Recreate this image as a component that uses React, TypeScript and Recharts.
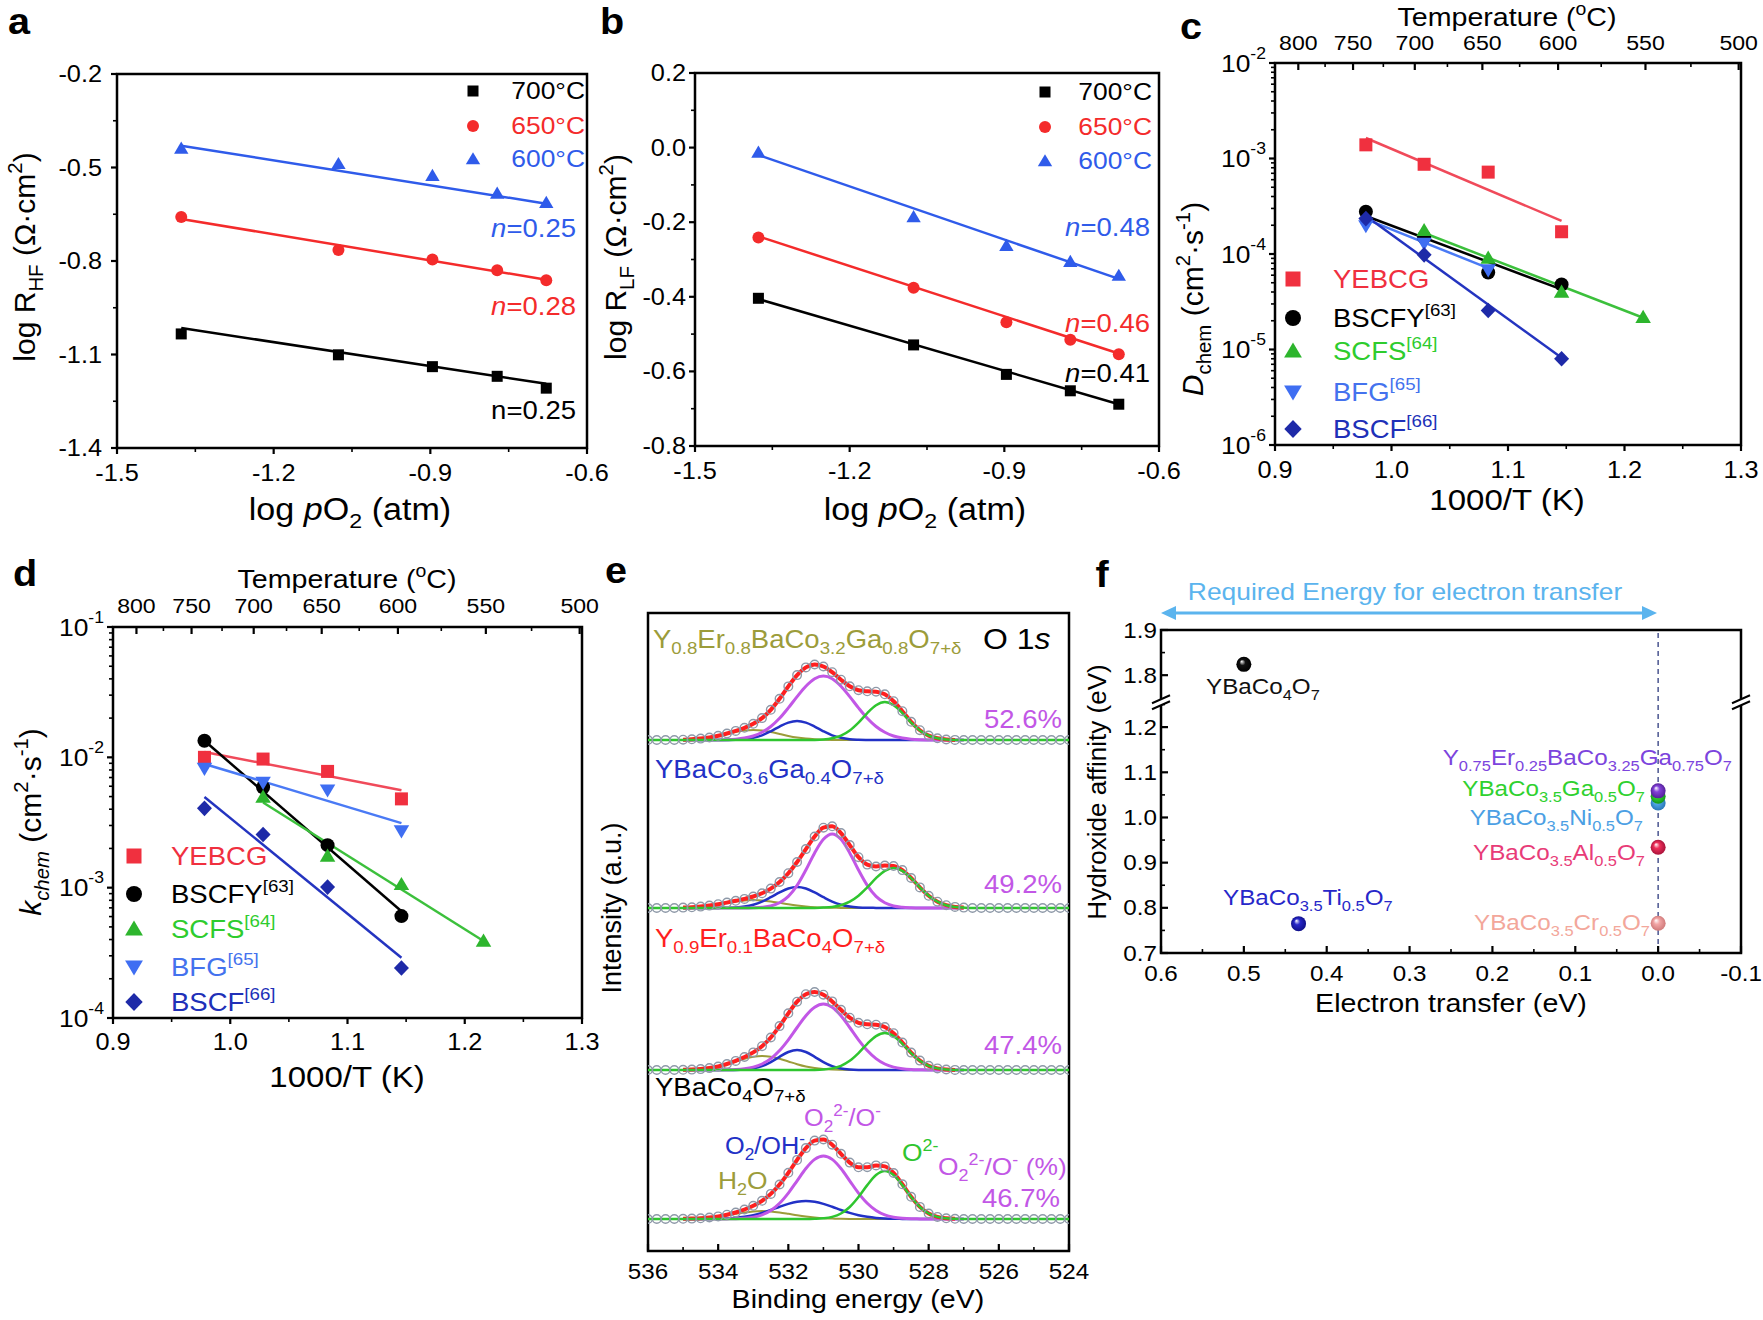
import React from "react";
import {
  ComposedChart,
  Line,
  Scatter,
  XAxis,
  YAxis,
  ReferenceArea,
  ReferenceLine,
} from "recharts";

const FONT = "'Liberation Sans', Arial, Helvetica, sans-serif";
const SX = 1.1; // the source figure is slightly stretched horizontally

// ---------- a / b : log R vs log pO2 ----------
const LOG_PO2 = [-1.377, -1.076, -0.896, -0.772, -0.678];
const RHF_700 = [-1.034, -1.101, -1.139, -1.17, -1.208];
const RHF_650 = [-0.659, -0.765, -0.795, -0.83, -0.862];
const RHF_600 = [-0.439, -0.488, -0.526, -0.583, -0.613];
const RHF_FIT_700 = [-1.015, -1.194];
const RHF_FIT_650 = [-0.665, -0.86];
const RHF_FIT_600 = [-0.43, -0.616];
const RLF_700 = [-0.404, -0.529, -0.608, -0.652, -0.688];
const RLF_650 = [-0.241, -0.376, -0.468, -0.515, -0.554];
const RLF_600 = [-0.013, -0.186, -0.263, -0.306, -0.343];
const RLF_FIT_700 = [-0.406, -0.688];
const RLF_FIT_650 = [-0.238, -0.552];
const RLF_FIT_600 = [-0.02, -0.352];
const TEMP_LABELS = ["700", "650", "600"];

// ---------- c / d : D_chem and k_chem vs 1000/T ----------
const INV_T = [0.978, 1.028, 1.083, 1.146];
const INV_T_SCFS = [1.028, 1.083, 1.146, 1.216];
const INV_T_BFG_C = [0.978, 1.028, 1.083];
const D_YEBCG = [1.39e-3, 8.7e-4, 7.2e-4, 1.71e-4];
const D_BSCFY = [2.77e-4, 1.5e-4, 6.4e-5, 4.8e-5];
const D_SCFS = [1.77e-4, 9.1e-5, 4.0e-5, 2.18e-5];
const D_BFG = [1.97e-4, 1.29e-4, 6.8e-5];
const D_BSCF = [2.35e-4, 9.8e-5, 2.56e-5, 8.0e-6];
const D_FIT_YEBCG = [1.64e-3, 2.22e-4];
const D_FIT_BSCFY = [2.5e-4, 4.26e-5];
const D_FIT_SCFS = [1.66e-4, 2.15e-5];
const D_FIT_BFG = [2.32e-4, 7.1e-5];
const D_FIT_BSCF = [2.5e-4, 8.2e-6];
const K_YEBCG = [1.0e-2, 9.7e-3, 7.8e-3, 4.8e-3];
const K_BSCFY = [1.34e-2, 5.9e-3, 2.12e-3, 6.05e-4];
const K_SCFS = [4.96e-3, 1.75e-3, 1.06e-3, 3.9e-4];
const K_BFG = [8.2e-3, 6.4e-3, 5.6e-3, 2.72e-3];
const K_BSCF = [4.06e-3, 2.56e-3, 1.01e-3, 2.42e-4];
const K_FIT_YEBCG = [1.1e-2, 5.6e-3];
const K_FIT_BSCFY = [1.34e-2, 6.6e-4];
const K_FIT_SCFS = [4.5e-3, 3.9e-4];
const K_FIT_BFG = [8.9e-3, 3.13e-3];
const K_FIT_BSCF = [4.97e-3, 2.9e-4];
// top (temperature) axis: labels and where the figure places them on the 1000/T scale
const TEMP_C = [800, 750, 700, 650, 600, 550, 500];
const TEMP_POS = [0.92, 0.967, 1.02, 1.078, 1.143, 1.218, 1.298];
const TEMP_MINOR = [0.943, 0.993, 1.048, 1.11, 1.18, 1.257];
const CD_NAMES = ["YEBCG", "BSCFY", "SCFS", "BFG", "BSCF"];
const CD_REFS = ["", "[63]", "[64]", "[65]", "[66]"];

// ---------- e : O 1s XPS, binding energy grid ----------
const BE = [
  536, 535.75, 535.5, 535.25, 535, 534.75, 534.5, 534.25, 534, 533.75, 533.5, 533.25, 533,
  532.75, 532.5, 532.25, 532, 531.75, 531.5, 531.25, 531, 530.75, 530.5, 530.25, 530, 529.75,
  529.5, 529.25, 529, 528.75, 528.5, 528.25, 528, 527.75, 527.5, 527.25, 527, 526.75, 526.5,
  526.25, 526, 525.75, 525.5, 525.25, 525, 524.75, 524.5, 524.25, 524,
];
// measured intensity (circles / envelope), full grid
const XPS_1 = [0, 0, 0, 0, 0.3, 0.7, 1.4, 2.5, 4.2, 6.5, 9.1, 12.2, 16.2, 21.9, 30.2, 41.2, 53.6, 64.9, 72.6, 75.5, 73.5, 67.8, 60.3, 53.7, 49.8, 48.7, 48.3, 45.7, 38.8, 28.8, 18.2, 9.8, 4.4, 1.7, 0.5, 0.1, 0, 0, 0, 0, 0, 0, 0, 0, 0, 0, 0, 0, 0];
const XPS_2 = [0, 0, 0, 0, 0.4, 0.7, 1.4, 2.4, 3.8, 5.4, 7.2, 9.1, 11.5, 14.7, 19.4, 26.0, 34.8, 46.0, 58.9, 71.5, 80.3, 81.7, 74.9, 62.9, 50.8, 43.4, 41.5, 42.4, 42.0, 37.9, 30.0, 20.6, 12.2, 6.3, 2.8, 1.1, 0.4, 0, 0, 0, 0, 0, 0, 0, 0, 0, 0, 0, 0];
const XPS_3 = [0, 0, 0, 0, 0.2, 0.4, 0.9, 1.9, 3.5, 6.0, 9.1, 13.0, 17.6, 23.8, 32.5, 43.9, 56.7, 68.3, 75.8, 78.0, 75.3, 68.6, 60.2, 52.3, 47.2, 45.7, 45.3, 43.0, 36.8, 27.5, 17.4, 9.4, 4.2, 1.6, 0.5, 0.1, 0, 0, 0, 0, 0, 0, 0, 0, 0, 0, 0, 0, 0];
const XPS_4 = [0, 0, 0, 0, 0.2, 0.4, 0.7, 1.5, 2.6, 4.3, 6.5, 9.5, 13.2, 18.2, 25.1, 34.5, 46.2, 59.1, 70.9, 78.4, 79.5, 74.3, 65.2, 56.4, 51.7, 51.8, 53.6, 52.6, 46.0, 34.7, 22.2, 12.1, 5.5, 2.1, 0.7, 0.2, 0, 0, 0, 0, 0, 0, 0, 0, 0, 0, 0, 0, 0];
// fitted components, 535 eV .. 527 eV
const PEROX_1 = [0, 0, 0, 0, 0.1, 0.3, 0.8, 1.9, 4.0, 7.7, 13.5, 21.7, 32.1, 43.4, 53.8, 61.3, 64, 61.3, 53.8, 43.4, 32.1, 21.7, 13.5, 7.7, 4.0, 1.9, 0.8, 0.3, 0.1, 0, 0, 0, 0];
const LATT_1 = [0, 0, 0, 0, 0, 0, 0, 0, 0, 0, 0, 0, 0, 0, 0, 0.1, 0.5, 1.7, 4.3, 9.5, 17.4, 26.9, 34.8, 38, 34.8, 26.9, 17.4, 9.5, 4.3, 1.7, 0.5, 0.1, 0];
const HYDROX_1 = [0, 0, 0, 0, 0, 0.1, 0.3, 0.8, 2.2, 4.7, 8.7, 13.4, 17.4, 19, 17.4, 13.4, 8.7, 4.7, 2.2, 0.8, 0.3, 0.1, 0, 0, 0, 0, 0, 0, 0, 0, 0, 0, 0];
const WATER_1 = [0.3, 0.7, 1.4, 2.5, 4.1, 6.1, 8.0, 9.5, 10, 9.5, 8.0, 6.1, 4.1, 2.5, 1.4, 0.7, 0.3, 0.1, 0, 0, 0, 0, 0, 0, 0, 0, 0, 0, 0, 0, 0, 0, 0];
const PEROX_2 = [0, 0, 0, 0, 0, 0, 0, 0, 0.2, 0.7, 2.0, 5.2, 11.6, 22.6, 38.0, 55.1, 68.7, 74, 68.7, 55.1, 38.0, 22.6, 11.6, 5.2, 2.0, 0.7, 0.2, 0, 0, 0, 0, 0, 0];
const LATT_2 = [0, 0, 0, 0, 0, 0, 0, 0, 0, 0, 0, 0, 0, 0, 0, 0.1, 0.4, 1.1, 2.8, 6.3, 12.2, 20.6, 29.8, 37.2, 40, 37.2, 29.8, 20.6, 12.2, 6.3, 2.8, 1.1, 0.4];
const HYDROX_2 = [0, 0, 0, 0, 0.1, 0.2, 0.6, 1.5, 3.3, 6.4, 10.8, 15.6, 19.5, 21, 19.5, 15.6, 10.8, 6.4, 3.3, 1.5, 0.6, 0.2, 0.1, 0, 0, 0, 0, 0, 0, 0, 0, 0, 0];
const WATER_2 = [0.4, 0.7, 1.4, 2.4, 3.7, 5.2, 6.6, 7.6, 8, 7.6, 6.6, 5.2, 3.7, 2.4, 1.4, 0.7, 0.4, 0.2, 0.1, 0, 0, 0, 0, 0, 0, 0, 0, 0, 0, 0, 0, 0, 0];
const PEROX_3 = [0, 0, 0, 0, 0, 0.2, 0.5, 1.3, 2.9, 6.0, 11.4, 19.5, 30.2, 42.5, 54.3, 62.8, 66, 62.8, 54.3, 42.5, 30.2, 19.5, 11.4, 6.0, 2.9, 1.3, 0.5, 0.2, 0, 0, 0, 0, 0];
const LATT_3 = [0, 0, 0, 0, 0, 0, 0, 0, 0, 0, 0, 0, 0, 0, 0, 0.1, 0.5, 1.6, 4.2, 9.2, 16.9, 26.2, 33.9, 37, 33.9, 26.2, 16.9, 9.2, 4.2, 1.6, 0.5, 0.1, 0];
const HYDROX_3 = [0, 0, 0, 0, 0, 0, 0.1, 0.5, 1.5, 3.8, 7.9, 13.2, 18.0, 20, 18.0, 13.2, 7.9, 3.8, 1.5, 0.5, 0.1, 0, 0, 0, 0, 0, 0, 0, 0, 0, 0, 0, 0];
const WATER_3 = [0.2, 0.4, 0.9, 1.9, 3.5, 5.8, 8.5, 11.2, 13.2, 14, 13.2, 11.2, 8.5, 5.8, 3.5, 1.9, 0.9, 0.4, 0.2, 0.1, 0, 0, 0, 0, 0, 0, 0, 0, 0, 0, 0, 0, 0];
const PEROX_4 = [0, 0, 0, 0, 0, 0.1, 0.2, 0.7, 1.8, 4.1, 8.5, 15.7, 25.9, 38.2, 50.5, 59.6, 63, 59.6, 50.5, 38.2, 25.9, 15.7, 8.5, 4.1, 1.8, 0.7, 0.2, 0.1, 0, 0, 0, 0, 0];
const LATT_4 = [0, 0, 0, 0, 0, 0, 0, 0, 0, 0, 0, 0, 0, 0, 0, 0.2, 0.7, 2.1, 5.5, 12.0, 22.0, 33.9, 44.0, 48, 44.0, 33.9, 22.0, 12.0, 5.5, 2.1, 0.7, 0.2, 0];
const HYDROX_4 = [0, 0, 0, 0.1, 0.2, 0.5, 1.1, 2.2, 3.8, 6.1, 9.0, 12.2, 15.1, 17.2, 18, 17.2, 15.1, 12.2, 9.0, 6.1, 3.8, 2.2, 1.1, 0.5, 0.2, 0.1, 0, 0, 0, 0, 0, 0, 0];
const WATER_4 = [0.2, 0.4, 0.7, 1.4, 2.4, 3.7, 5.2, 6.6, 7.6, 8, 7.6, 6.6, 5.2, 3.7, 2.4, 1.4, 0.7, 0.4, 0.2, 0.1, 0, 0, 0, 0, 0, 0, 0, 0, 0, 0, 0, 0, 0];
const COMP_START = 4; // component arrays begin at BE[4] = 535 eV

// ---------- f : hydroxide affinity vs electron transfer ----------
const F_NAMES = ["YBaCo4O7", "YBaCo3.5Ti0.5O7", "YBaCo3.5Cr0.5O7", "YBaCo3.5Al0.5O7", "YBaCo3.5Ni0.5O7", "YBaCo3.5Ga0.5O7", "Y0.75Er0.25BaCo3.25Ga0.75O7"];
const F_TRANSFER = [0.5, 0.434, 0, 0, 0, 0, 0];
const F_AFFINITY = [1.824, 0.765, 0.766, 0.934, 1.032, 1.047, 1.059];
const F_GAP = 0.485; // removed band of the broken y axis (1.255 .. 1.74)

// ---------- layout ----------
const PAD = { l: 100, t: 50, r: 40, b: 50 };
const PA = { x: 117, y: 74, w: 470, h: 374 };
const PB = { x: 695, y: 73, w: 464, h: 373 };
const PC = { x: 1275, y: 63, w: 466, h: 382 };
const PD = { x: 113, y: 627, w: 469, h: 391 };
const PE = { x: 648, y: 613, w: 421, h: 638 };
const PF = { x: 1161, y: 630, w: 580, h: 323 };

const AB_STYLE = [
  { kind: "square", color: "#000000", size: 11 },
  { kind: "circle", color: "#F42B2B", size: 12 },
  { kind: "up", color: "#2F5BEA", size: 12.5 },
];
const CD_STYLE = [
  { kind: "square", color: "#F0303F", line: "#F04A5A", text: "#F0303F", size: 13 },
  { kind: "circle", color: "#000000", line: "#000000", text: "#000000", size: 14 },
  { kind: "up", color: "#2DB52D", line: "#3CC03C", text: "#2ECC2E", size: 13.5 },
  { kind: "down", color: "#3F6EF2", line: "#4A7AF5", text: "#4472EE", size: 13.5 },
  { kind: "diamond", color: "#1E2AA8", line: "#2434C0", text: "#2030B8", size: 12.5 },
];
const E_COL = { red: "#FF1F1F", purple: "#C257E6", green: "#2FC52F", blue: "#2231C6", olive: "#9C9C3A", dots: "#8E99A8" };
const F_COL = ["#111111", "#2727C9", "#F2A6A6", "#EE2F5A", "#4FA6E6", "#33D933", "#8443D9"];
const F_DARK = ["#000000", "#10108A", "#D07A7A", "#A8123A", "#2A78B8", "#16961A", "#55209A"];

const pts = (xs: number[], ys: number[]) => xs.map((x, i) => ({ x, y: ys[i] }));
const fitPts = (xs: number[], f: number[]) => [
  { x: xs[0], y: f[0] },
  { x: xs[xs.length - 1], y: f[1] },
];

const f1 = (v: number) => v.toFixed(1);
const fPow = (v: number) => (
  <>
    <tspan>10</tspan>
    <tspan dy={-10} fontSize={16}>
      {Math.round(Math.log10(v))}
    </tspan>
  </>
);
const fTemp = (v: number) => {
  const i = TEMP_POS.findIndex((p) => Math.abs(p - v) < 1e-6);
  return i >= 0 ? String(TEMP_C[i]) : "";
};

function mkTick(o: any) {
  return (p: any) => {
    const v = Number(p.payload.value);
    const major = o.majors.some((m: number) => Math.abs(m - v) <= 1e-9 + Math.abs(m) * 1e-6);
    const len = major ? o.len || 6 : 4;
    const d = o.inward ? -1 : 1;
    const label = (tx: number, ty: number, anchor: string) => (
      <text
        transform={`translate(${tx},${ty}) scale(${SX},1)`}
        textAnchor={anchor}
        dominantBaseline="central"
        fontSize={o.font || 23}
        fontFamily={FONT}
        fill="#000"
      >
        {o.fmt(v)}
      </text>
    );
    const sw = major ? 2.2 : 1.6;
    if (o.side === "left") {
      return (
        <g>
          <line x1={o.axis} x2={o.axis - d * len} y1={p.y} y2={p.y} stroke="#000" strokeWidth={sw} />
          {major && label(o.axis - o.off, p.y, "end")}
        </g>
      );
    }
    if (o.side === "top") {
      return (
        <g>
          <line x1={p.x} x2={p.x} y1={o.axis} y2={o.axis - d * len} stroke="#000" strokeWidth={sw} />
          {major && label(p.x, o.axis - o.off, "middle")}
        </g>
      );
    }
    return (
      <g>
        <line x1={p.x} x2={p.x} y1={o.axis} y2={o.axis + d * len} stroke="#000" strokeWidth={sw} />
        {major && label(p.x, o.axis + o.off, "middle")}
      </g>
    );
  };
}

function Mark({ kind, cx, cy, s, color }: any) {
  const h = s / 2;
  if (kind === "square") return <rect x={cx - h} y={cy - h} width={s} height={s} fill={color} />;
  if (kind === "circle") return <circle cx={cx} cy={cy} r={h} fill={color} />;
  if (kind === "up")
    return <polygon points={`${cx},${cy - h * 1.1} ${cx + h * 1.15},${cy + h * 0.85} ${cx - h * 1.15},${cy + h * 0.85}`} fill={color} />;
  if (kind === "down")
    return <polygon points={`${cx},${cy + h * 1.1} ${cx + h * 1.15},${cy - h * 0.85} ${cx - h * 1.15},${cy - h * 0.85}`} fill={color} />;
  return <polygon points={`${cx},${cy - h * 1.25} ${cx + h * 1.2},${cy} ${cx},${cy + h * 1.25} ${cx - h * 1.2},${cy}`} fill={color} />;
}

const Sub = ({ children }: any) => (
  <span style={{ fontSize: "0.68em", position: "relative", top: "0.38em" }}>{children}</span>
);
const Sup = ({ children }: any) => (
  <span style={{ fontSize: "0.68em", position: "relative", top: "-0.62em" }}>{children}</span>
);

function Txt({ x, y, a = "s", size = 24, color = "#000", it = false, bold = false, rot = false, children }: any) {
  const tx = a === "s" ? "0" : a === "m" ? "-50%" : "-100%";
  const origin = a === "s" ? "left center" : a === "m" ? "center center" : "right center";
  return (
    <div
      style={{
        position: "absolute",
        left: x,
        top: y,
        transform: rot ? "translate(-50%,-50%) rotate(-90deg)" : `translate(${tx},-50%) scaleX(${SX})`,
        transformOrigin: rot ? "center center" : origin,
        fontSize: size,
        color,
        fontStyle: it ? "italic" : "normal",
        fontWeight: bold ? 700 : 400,
        whiteSpace: "nowrap",
        lineHeight: 1,
      }}
    >
      {children}
    </div>
  );
}

function LegendMark({ x, y, kind, s, color }: any) {
  return (
    <svg width={24} height={24} style={{ position: "absolute", left: x - 12, top: y - 12 }}>
      <Mark kind={kind} cx={12} cy={12} s={s} color={color} />
    </svg>
  );
}

function Frame({ box, top = false, data, children }: any) {
  return (
    <div style={{ position: "absolute", left: box.x - PAD.l, top: box.y - PAD.t }}>
      <ComposedChart
        width={box.w + PAD.l + PAD.r}
        height={box.h + PAD.t + PAD.b}
        data={data}
        margin={{ top: PAD.t - (top ? 1 : 0), right: PAD.r, bottom: PAD.b - 1, left: PAD.l - 1 }}
      >
        {children}
      </ComposedChart>
    </div>
  );
}

const xAxisBottom = (box: any, dom: number[], maj: number[], min: number[], fmt: any, off: number, o: any = {}) => (
  <XAxis
    key="xb"
    type="number"
    dataKey={o.key || "x"}
    domain={dom}
    ticks={[...maj, ...min]}
    interval={0}
    height={1}
    axisLine={false}
    tickLine={false}
    tickSize={0}
    tickMargin={0}
    reversed={!!o.reversed}
    allowDataOverflow
    tick={mkTick({ side: "bottom", axis: PAD.t + box.h, majors: maj, fmt, off, inward: o.inward, len: o.len, font: o.font })}
  />
);
const yAxisLeft = (dom: number[], maj: number[], min: number[], fmt: any, off: number, o: any = {}) => (
  <YAxis
    key="yl"
    type="number"
    dataKey="y"
    scale={o.log ? "log" : "auto"}
    domain={dom}
    ticks={[...maj, ...min]}
    interval={0}
    width={1}
    axisLine={false}
    tickLine={false}
    tickSize={0}
    tickMargin={0}
    allowDataOverflow
    tick={mkTick({ side: "left", axis: PAD.l, majors: maj, fmt, off, inward: o.inward, len: o.len, font: o.font })}
  />
);
const box = (xd: number[], yd: number[]) => (
  <ReferenceArea key="box" x1={xd[0]} x2={xd[1]} y1={yd[0]} y2={yd[1]} fill="none" stroke="#000" strokeWidth={2.5} ifOverflow="visible" />
);

function PanelR({ b, ys, fits, yDom, yMaj, yMin, yOff, letter, lx, sub, legX, legTX, legY, nLabels, nX, titleX }: any) {
  const xd = [-1.5, -0.6];
  return (
    <>
      <Frame box={b}>
        {xAxisBottom(b, xd, [-1.5, -1.2, -0.9, -0.6], [-1.35, -1.05, -0.75], f1, 25)}
        {yAxisLeft(yDom, yMaj, yMin, f1, yOff)}
        {box(xd, yDom)}
        {AB_STYLE.map((s, k) => (
          <Scatter
            key={"s" + k}
            data={pts(LOG_PO2, ys[k])}
            dataKey="y"
            isAnimationActive={false}
            shape={(p: any) => <Mark kind={s.kind} cx={p.cx} cy={p.cy} s={s.size} color={s.color} />}
          />
        ))}
        {AB_STYLE.map((s, k) => (
          <Line key={"l" + k} data={fitPts(LOG_PO2, fits[k])} dataKey="y" type="linear" stroke={s.color} strokeWidth={2.5} dot={false} activeDot={false} isAnimationActive={false} />
        ))}
      </Frame>
      <Txt x={lx} y={22} a="m" size={36} bold>{letter}</Txt>
      <Txt x={titleX} y={257} rot size={30}>
        log R<Sub>{sub}</Sub> (Ω·cm<Sup>2</Sup>)
      </Txt>
      <Txt x={b.x + b.w / 2 - 2} y={509} a="m" size={31}>
        log <i>p</i>O<Sub>2</Sub> (atm)
      </Txt>
      {AB_STYLE.map((s, k) => (
        <React.Fragment key={"lg" + k}>
          <LegendMark x={legX} y={legY[k]} kind={s.kind} s={s.size} color={s.color} />
          <Txt x={legTX} y={legY[k]} a="e" size={24} color={s.color}>{TEMP_LABELS[k]}°C</Txt>
        </React.Fragment>
      ))}
      {nLabels.map((n: any, k: number) => (
        <Txt key={"n" + k} x={nX} y={n.y} a="e" size={25} color={AB_STYLE[n.k].color}>
          {n.it ? <i>n</i> : "n"}={n.v}
        </Txt>
      ))}
    </>
  );
}

function PanelCD({ b, xs, ys, fits, yDom, yMaj, letter, lpos, yTitle, yTitlePos, topOff, botOff, legX, legTX, legY, topTitleY, xTitleY }: any) {
  const xd = [0.9, 1.3];
  const yMin: number[] = [];
  for (let e = Math.round(Math.log10(yDom[0])); e < Math.round(Math.log10(yDom[1])); e++) {
    for (let m = 2; m <= 9; m++) yMin.push(m * Math.pow(10, e));
  }
  return (
    <>
      <Frame box={b} top>
        {xAxisBottom(b, xd, [0.9, 1.0, 1.1, 1.2, 1.3], [0.95, 1.05, 1.15, 1.25], f1, botOff)}
        <XAxis
          key="xt"
          xAxisId="top"
          orientation="top"
          type="number"
          dataKey="x"
          domain={xd}
          ticks={[...TEMP_POS, ...TEMP_MINOR]}
          interval={0}
          height={1}
          axisLine={false}
          tickLine={false}
          tickSize={0}
          tickMargin={0}
          allowDataOverflow
          tick={mkTick({ side: "top", axis: PAD.t, majors: TEMP_POS, fmt: fTemp, off: topOff, font: 21, len: 7, inward: true })}
        />
        {yAxisLeft(yDom, yMaj, yMin, fPow, 9, { log: true, font: 24 })}
        {box(xd, yDom)}
        {CD_STYLE.map((s, k) => (
          <Line key={"l" + k} xAxisId="top" data={fitPts(xs[k], fits[k])} dataKey="y" type="linear" stroke={s.line} strokeWidth={2.5} dot={false} activeDot={false} isAnimationActive={false} />
        ))}
        {CD_STYLE.map((s, k) => (
          <Scatter
            key={"s" + k}
            data={pts(xs[k], ys[k])}
            dataKey="y"
            isAnimationActive={false}
            shape={(p: any) => <Mark kind={s.kind} cx={p.cx} cy={p.cy} s={s.size} color={s.color} />}
          />
        ))}
      </Frame>
      <Txt x={lpos[0]} y={lpos[1]} a="m" size={36} bold>{letter}</Txt>
      <Txt x={b.x + b.w / 2 - 1} y={topTitleY} a="m" size={26}>
        Temperature (<Sup>o</Sup>C)
      </Txt>
      <Txt x={b.x + b.w / 2 - 1} y={xTitleY} a="m" size={30}>1000/T (K)</Txt>
      <Txt x={yTitlePos[0]} y={yTitlePos[1]} rot size={30}>{yTitle}</Txt>
      {CD_STYLE.map((s, k) => (
        <React.Fragment key={"lg" + k}>
          <LegendMark x={legX} y={legY[k]} kind={s.kind} s={s.size + 2} color={s.color} />
          <Txt x={legTX} y={legY[k]} size={25} color={s.text}>
            {CD_NAMES[k]}
            {CD_REFS[k] && <Sup>{CD_REFS[k]}</Sup>}
          </Txt>
        </React.Fragment>
      ))}
    </>
  );
}

const XPS = [XPS_1, XPS_2, XPS_3, XPS_4];
const PEROX = [PEROX_1, PEROX_2, PEROX_3, PEROX_4];
const LATT = [LATT_1, LATT_2, LATT_3, LATT_4];
const HYDROX = [HYDROX_1, HYDROX_2, HYDROX_3, HYDROX_4];
const WATER = [WATER_1, WATER_2, WATER_3, WATER_4];
const E_OFFSET = [511, 343, 181, 32]; // baseline of each stacked spectrum

const eRows = BE.map((be, i) => {
  const row: any = { be };
  const j = i - COMP_START;
  for (let k = 0; k < 4; k++) {
    const off = E_OFFSET[k];
    const inside = j >= 0 && j < PEROX[k].length;
    row["d" + k] = off + XPS[k][i];
    row["r" + k] = XPS[k][i] > 0 ? off + XPS[k][i] : null;
    row["p" + k] = inside ? off + PEROX[k][j] : null;
    row["b" + k] = inside ? off + HYDROX[k][j] : null;
    row["o" + k] = inside ? off + WATER[k][j] : null;
    row["g" + k] = off + (inside ? LATT[k][j] : 0);
  }
  return row;
});

function PanelE() {
  const xd = [524, 536];
  const lineProps = { type: "monotone" as const, dot: false, activeDot: false, isAnimationActive: false };
  return (
    <>
      <Frame box={PE} data={eRows}>
        {xAxisBottom(PE, xd, [536, 534, 532, 530, 528, 526, 524], [535, 533, 531, 529, 527, 525], (v: number) => String(v), 20, { key: "be", reversed: true, inward: true, len: 7, font: 22 })}
        <YAxis key="yl" type="number" domain={[0, PE.h]} width={1} tick={false} axisLine={false} tickLine={false} />
        {box(xd, [0, PE.h])}
        {[0, 1, 2, 3].flatMap((k) => [
          <Line key={"o" + k} dataKey={"o" + k} stroke={E_COL.olive} strokeWidth={2} {...lineProps} />,
          <Line key={"b" + k} dataKey={"b" + k} stroke={E_COL.blue} strokeWidth={2.5} {...lineProps} />,
          <Line key={"p" + k} dataKey={"p" + k} stroke={E_COL.purple} strokeWidth={3} {...lineProps} />,
          <Line key={"r" + k} dataKey={"r" + k} stroke={E_COL.red} strokeWidth={4} {...lineProps} />,
          <Line key={"g" + k} dataKey={"g" + k} stroke={E_COL.green} strokeWidth={2.5} {...lineProps} />,
          <Line key={"d" + k} dataKey={"d" + k} stroke="none" dot={{ r: 4.3, stroke: E_COL.dots, strokeWidth: 1.4, fill: "none" }} activeDot={false} isAnimationActive={false} />,
        ])}
      </Frame>
      <Txt x={616} y={571} a="m" size={36} bold>e</Txt>
      <Txt x={612} y={908} rot size={27}>Intensity (a.u.)</Txt>
      <Txt x={858} y={1299} a="m" size={26}>Binding energy (eV)</Txt>
      <Txt x={653} y={639} size={25} color={E_COL.olive}>
        Y<Sub>0.8</Sub>Er<Sub>0.8</Sub>BaCo<Sub>3.2</Sub>Ga<Sub>0.8</Sub>O<Sub>7+δ</Sub>
      </Txt>
      <Txt x={983} y={639} size={29}>
        O 1<i>s</i>
      </Txt>
      <Txt x={655} y={769} size={25} color={E_COL.blue}>
        YBaCo<Sub>3.6</Sub>Ga<Sub>0.4</Sub>O<Sub>7+δ</Sub>
      </Txt>
      <Txt x={655} y={938} size={25} color={E_COL.red}>
        Y<Sub>0.9</Sub>Er<Sub>0.1</Sub>BaCo<Sub>4</Sub>O<Sub>7+δ</Sub>
      </Txt>
      <Txt x={655} y={1087} size={25}>
        YBaCo<Sub>4</Sub>O<Sub>7+δ</Sub>
      </Txt>
      <Txt x={1062} y={719} a="e" size={25} color={E_COL.purple}>52.6%</Txt>
      <Txt x={1062} y={884} a="e" size={25} color={E_COL.purple}>49.2%</Txt>
      <Txt x={1062} y={1045} a="e" size={25} color={E_COL.purple}>47.4%</Txt>
      <Txt x={1060} y={1198} a="e" size={25} color={E_COL.purple}>46.7%</Txt>
      <Txt x={804} y={1118} size={23} color={E_COL.purple}>
        O<Sub>2</Sub><Sup>2-</Sup>/O<Sup>-</Sup>
      </Txt>
      <Txt x={725} y={1146} size={23} color={E_COL.blue}>
        O<Sub>2</Sub>/OH<Sup>-</Sup>
      </Txt>
      <Txt x={902} y={1153} size={24} color={E_COL.green}>
        O<Sup>2-</Sup>
      </Txt>
      <Txt x={718} y={1181} size={24} color={E_COL.olive}>
        H<Sub>2</Sub>O
      </Txt>
      <Txt x={938} y={1167} size={24} color={E_COL.purple}>
        O<Sub>2</Sub><Sup>2-</Sup>/O<Sup>-</Sup> (%)
      </Txt>
    </>
  );
}

const fData = F_TRANSFER.map((x, i) => ({
  x,
  y: F_AFFINITY[i] > 1.5 ? F_AFFINITY[i] - F_GAP : F_AFFINITY[i],
  i,
}));

function PanelF() {
  const xd = [-0.1, 0.6];
  const yd = [0.7, 1.9 - F_GAP];
  const breakY = PF.y + ((yd[1] - 1.255) / (yd[1] - yd[0])) * PF.h;
  const fmtY = (v: number) => (v > 1.26 ? v + F_GAP : v).toFixed(1);
  return (
    <>
      <Frame box={PF}>
        {xAxisBottom(PF, xd, [0.6, 0.5, 0.4, 0.3, 0.2, 0.1, 0, -0.1], [0.55, 0.45, 0.35, 0.25, 0.15, 0.05, -0.05], f1, 20, { reversed: true, inward: true, len: 7, font: 22 })}
        {yAxisLeft(yd, [0.7, 0.8, 0.9, 1.0, 1.1, 1.2, 1.8 - F_GAP, 1.9 - F_GAP], [0.75, 0.85, 0.95, 1.05, 1.15, 1.25, 1.85 - F_GAP], fmtY, 4, { inward: true, len: 7, font: 22 })}
        {box(xd, yd)}
        <ReferenceLine x={0} stroke="#4A5690" strokeWidth={1.5} strokeDasharray="5 4" ifOverflow="visible" />
        <Scatter
          data={fData}
          dataKey="y"
          isAnimationActive={false}
          shape={(p: any) => <circle cx={p.cx} cy={p.cy} r={7.5} fill={`url(#sph${p.payload.i})`} />}
        />
      </Frame>
      <svg width={1763} height={1320} style={{ position: "absolute", left: 0, top: 0, pointerEvents: "none" }}>
        {[PF.x, PF.x + PF.w].map((x) => (
          <g key={x}>
            <polygon points={`${x - 9},${breakY + 1} ${x + 9},${breakY - 7} ${x + 9},${breakY - 1} ${x - 9},${breakY + 7}`} fill="#fff" />
            <line x1={x - 9} y1={breakY + 1} x2={x + 9} y2={breakY - 7} stroke="#000" strokeWidth={2} />
            <line x1={x - 9} y1={breakY + 7} x2={x + 9} y2={breakY - 1} stroke="#000" strokeWidth={2} />
          </g>
        ))}
        <line x1={PF.x + 10} y1={613} x2={1648} y2={613} stroke="#5BB4EE" strokeWidth={3} />
        <polygon points={`${PF.x},613 ${PF.x + 15},606 ${PF.x + 15},620`} fill="#5BB4EE" />
        <polygon points={`1657,613 1642,606 1642,620`} fill="#5BB4EE" />
      </svg>
      <Txt x={1102} y={575} a="m" size={36} bold>f</Txt>
      <Txt x={1405} y={592} a="m" size={24} color="#5BB4EE">Required Energy for electron transfer</Txt>
      <Txt x={1097} y={792} rot size={26}>Hydroxide affinity (eV)</Txt>
      <Txt x={1451} y={1003} a="m" size={26}>Electron transfer (eV)</Txt>
      <Txt x={1206} y={687} size={22} color="#111">
        YBaCo<Sub>4</Sub>O<Sub>7</Sub>
      </Txt>
      <Txt x={1223} y={898} size={22} color={F_COL[1]}>
        YBaCo<Sub>3.5</Sub>Ti<Sub>0.5</Sub>O<Sub>7</Sub>
      </Txt>
      <Txt x={1650} y={923} a="e" size={22} color="#F3A79B">
        YBaCo<Sub>3.5</Sub>Cr<Sub>0.5</Sub>O<Sub>7</Sub>
      </Txt>
      <Txt x={1645} y={853} a="e" size={22} color="#E83C78">
        YBaCo<Sub>3.5</Sub>Al<Sub>0.5</Sub>O<Sub>7</Sub>
      </Txt>
      <Txt x={1643} y={818} a="e" size={22} color="#4C9FE4">
        YBaCo<Sub>3.5</Sub>Ni<Sub>0.5</Sub>O<Sub>7</Sub>
      </Txt>
      <Txt x={1645} y={789} a="e" size={22} color="#2FD12F">
        YBaCo<Sub>3.5</Sub>Ga<Sub>0.5</Sub>O<Sub>7</Sub>
      </Txt>
      <Txt x={1732} y={758} a="e" size={22} color="#7C44DD">
        Y<Sub>0.75</Sub>Er<Sub>0.25</Sub>BaCo<Sub>3.25</Sub>Ga<Sub>0.75</Sub>O<Sub>7</Sub>
      </Txt>
    </>
  );
}

export default function App() {
  const unitsD = (
    <>
      <i>D</i>
      <Sub>chem</Sub> (cm<Sup>2</Sup>·s<Sup>-1</Sup>)
    </>
  );
  const unitsK = (
    <>
      <i>
        k<Sub>chem</Sub>
      </i>{" "}
      (cm<Sup>2</Sup>·s<Sup>-1</Sup>)
    </>
  );
  return (
    <div style={{ position: "relative", width: 1763, height: 1320, background: "#fff", fontFamily: FONT, overflow: "hidden" }}>
      <style>{"body{margin:0}"}</style>
      <svg width={0} height={0} style={{ position: "absolute" }}>
        <defs>
          {F_COL.map((c, i) => (
            <radialGradient key={i} id={`sph${i}`} cx="50%" cy="50%" r="50%" fx="35%" fy="30%">
              <stop offset="0%" stopColor="#ffffff" />
              <stop offset="40%" stopColor={c} />
              <stop offset="100%" stopColor={F_DARK[i]} />
            </radialGradient>
          ))}
        </defs>
      </svg>

      <PanelR
        b={PA}
        ys={[RHF_700, RHF_650, RHF_600]}
        fits={[RHF_FIT_700, RHF_FIT_650, RHF_FIT_600]}
        yDom={[-1.4, -0.2]}
        yMaj={[-1.4, -1.1, -0.8, -0.5, -0.2]}
        yMin={[-1.25, -0.95, -0.65, -0.35]}
        yOff={15}
        letter="a"
        lx={19}
        sub="HF"
        titleX={25}
        legX={473}
        legTX={585}
        legY={[91, 126, 159]}
        nX={576}
        nLabels={[
          { k: 2, v: "0.25", y: 228, it: true },
          { k: 1, v: "0.28", y: 306, it: true },
          { k: 0, v: "0.25", y: 410, it: false },
        ]}
      />
      <PanelR
        b={PB}
        ys={[RLF_700, RLF_650, RLF_600]}
        fits={[RLF_FIT_700, RLF_FIT_650, RLF_FIT_600]}
        yDom={[-0.8, 0.2]}
        yMaj={[-0.8, -0.6, -0.4, -0.2, 0, 0.2]}
        yMin={[-0.7, -0.5, -0.3, -0.1, 0.1]}
        yOff={9}
        letter="b"
        lx={612}
        sub="LF"
        titleX={616}
        legX={1045}
        legTX={1152}
        legY={[92, 127, 161]}
        nX={1150}
        nLabels={[
          { k: 2, v: "0.48", y: 227, it: true },
          { k: 1, v: "0.46", y: 323, it: true },
          { k: 0, v: "0.41", y: 373, it: true },
        ]}
      />
      <PanelCD
        b={PC}
        xs={[INV_T, INV_T, INV_T_SCFS, INV_T_BFG_C, INV_T]}
        ys={[D_YEBCG, D_BSCFY, D_SCFS, D_BFG, D_BSCF]}
        fits={[D_FIT_YEBCG, D_FIT_BSCFY, D_FIT_SCFS, D_FIT_BFG, D_FIT_BSCF]}
        yDom={[1e-6, 1e-2]}
        yMaj={[1e-6, 1e-5, 1e-4, 1e-3, 1e-2]}
        letter="c"
        lpos={[1191, 27]}
        yTitle={unitsD}
        yTitlePos={[1193, 299]}
        topOff={20}
        botOff={25}
        legX={1293}
        legTX={1333}
        legY={[279, 318, 351, 392, 429]}
        topTitleY={17}
        xTitleY={500}
      />
      <PanelCD
        b={PD}
        xs={[INV_T, INV_T, INV_T_SCFS, INV_T, INV_T]}
        ys={[K_YEBCG, K_BSCFY, K_SCFS, K_BFG, K_BSCF]}
        fits={[K_FIT_YEBCG, K_FIT_BSCFY, K_FIT_SCFS, K_FIT_BFG, K_FIT_BSCF]}
        yDom={[1e-4, 1e-1]}
        yMaj={[1e-4, 1e-3, 1e-2, 1e-1]}
        letter="d"
        lpos={[25, 574]}
        yTitle={unitsK}
        yTitlePos={[31, 822]}
        topOff={21}
        botOff={24}
        legX={134}
        legTX={171}
        legY={[856, 894, 929, 967, 1002]}
        topTitleY={579}
        xTitleY={1077}
      />
      <PanelE />
      <PanelF />
    </div>
  );
}
